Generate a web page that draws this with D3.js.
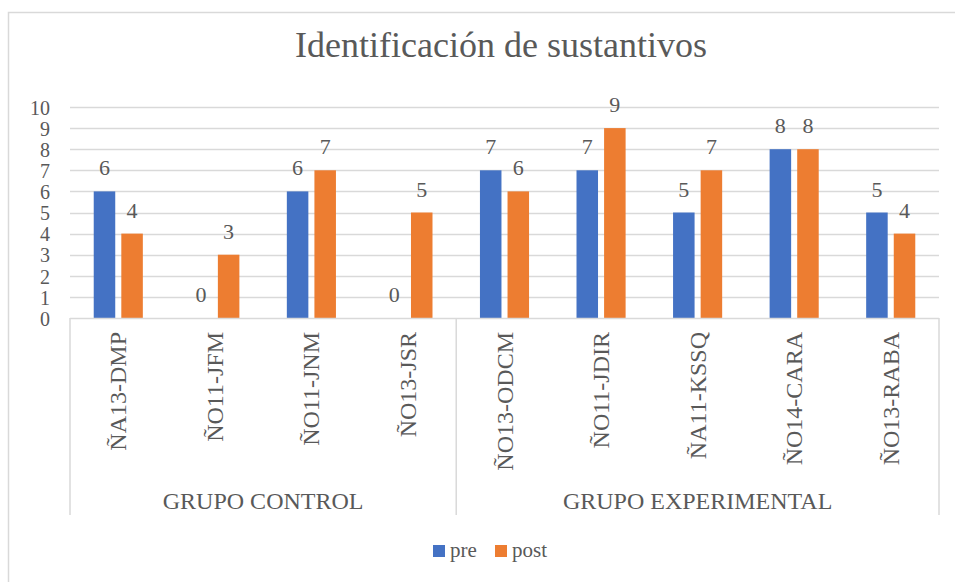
<!DOCTYPE html>
<html>
  <head>
    <meta charset="utf-8" />
    <title>Identificación de sustantivos</title>
    <script src="https://d3js.org/d3.v7.min.js"></script>
    <style>
      body { margin: 0; background: #fff; }
    </style>
  </head>
  <body>
    <svg id="chart"></svg>
    <script>
      // data
      var categories = ["ÑA13-DMP", "ÑO11-JFM", "ÑO11-JNM", "ÑO13-JSR", "ÑO13-ODCM", "ÑO11-JDIR", "ÑA11-KSSQ", "ÑO14-CARA", "ÑO13-RABA"];
      var groups = ["GRUPO CONTROL", "GRUPO EXPERIMENTAL"];
      var groupSizes = [4, 5];
      var series = ["pre", "post"];
      var preValues = [6, 0, 6, 0, 7, 7, 5, 8, 5];
      var postValues = [4, 3, 7, 5, 6, 9, 7, 8, 4];
      var yTicks = [0, 1, 2, 3, 4, 5, 6, 7, 8, 9, 10];
      var colors = ["#4472C4", "#ED7D31"];

      var FONT = "'Liberation Serif', Tinos, 'Times New Roman', 'DejaVu Serif', serif";
      var W = 955, H = 582;
      var svg = d3.select("#chart").attr("width", W).attr("height", H)
        .attr("font-family", FONT);

      function txt(sel) {
        return sel.attr("font-family", FONT).attr("fill", "#595959");
      }

      // chart border
      svg.append("rect")
        .attr("x", 8.5).attr("y", 12.5)
        .attr("width", 960).attr("height", 600)
        .attr("fill", "none").attr("stroke", "#d9d9d9").attr("stroke-width", 1.5);

      // title
      txt(svg.append("text"))
        .attr("x", 501).attr("y", 57)
        .attr("text-anchor", "middle")
        .attr("font-size", 36)
        .text("Identificación de sustantivos");

      // scales
      var x0 = d3.scaleBand().domain(categories).range([70, 939]).padding(0);
      var x1 = d3.scaleBand().domain(series).range([0, x0.bandwidth()])
        .paddingInner(0.22).paddingOuter(0.86);
      var y = d3.scaleLinear().domain([0, 10]).range([318, 107]);

      // gridlines
      svg.append("g").selectAll("line")
        .data(yTicks.slice(1))
        .enter().append("line")
        .attr("x1", 70).attr("x2", 939)
        .attr("y1", function (d) { return Math.round(y(d)) + 0.5; })
        .attr("y2", function (d) { return Math.round(y(d)) + 0.5; })
        .attr("stroke", "#d9d9d9").attr("stroke-width", 1.5);

      // y axis labels
      var yAxis = svg.append("g")
        .attr("transform", "translate(70,0)")
        .call(d3.axisLeft(y).tickValues(yTicks).tickSize(0).tickPadding(20))
        .attr("font-family", FONT);
      yAxis.select(".domain").remove();
      txt(yAxis.selectAll("text"))
        .attr("font-size", 20)
        .attr("dy", "0.36em");

      // bars
      var rows = categories.map(function (c, i) {
        return { cat: c, values: [preValues[i], postValues[i]] };
      });
      var cat = svg.append("g").selectAll("g")
        .data(rows)
        .enter().append("g")
        .attr("transform", function (d) { return "translate(" + x0(d.cat) + ",0)"; });

      cat.selectAll("rect")
        .data(function (d) { return d.values.map(function (v, j) { return { s: series[j], v: v, j: j }; }); })
        .enter().append("rect")
        .attr("x", function (d) { return x1(d.s); })
        .attr("y", function (d) { return y(d.v); })
        .attr("width", x1.bandwidth())
        .attr("height", function (d) { return y(0) - y(d.v); })
        .attr("fill", function (d) { return colors[d.j]; });

      txt(cat.selectAll("text.val")
        .data(function (d) { return d.values.map(function (v, j) { return { s: series[j], v: v }; }); })
        .enter().append("text"))
        .attr("class", "val")
        .attr("x", function (d) { return x1(d.s) + x1.bandwidth() / 2; })
        .attr("y", function (d) { return y(d.v) - 16; })
        .attr("text-anchor", "middle")
        .attr("font-size", 22)
        .text(function (d) { return d.v; });

      // category axis box
      var axisG = svg.append("g");
      axisG.append("line")
        .attr("x1", 70).attr("x2", 939).attr("y1", 318.5).attr("y2", 318.5)
        .attr("stroke", "#d9d9d9").attr("stroke-width", 1.5);

      var bounds = [0];
      groupSizes.forEach(function (n, i) { bounds.push(bounds[i] + n); });
      bounds.forEach(function (b) {
        var xx = b < categories.length ? x0(categories[b]) : x0.range()[1];
        axisG.append("line")
          .attr("x1", xx).attr("x2", xx).attr("y1", 318).attr("y2", 515)
          .attr("stroke", "#d9d9d9").attr("stroke-width", 1.5);
      });

      // category labels (rotated)
      txt(axisG.selectAll("text.cat")
        .data(categories)
        .enter().append("text"))
        .attr("class", "cat")
        .attr("transform", function (d) {
          return "translate(" + (x0(d) + x0.bandwidth() / 2 + 8) + ",332) rotate(-90)";
        })
        .attr("text-anchor", "end")
        .attr("font-size", 24)
        .text(function (d) { return d; });

      // group labels
      txt(axisG.selectAll("text.grp")
        .data(groups)
        .enter().append("text"))
        .attr("class", "grp")
        .attr("x", function (d, i) {
          var a = x0(categories[bounds[i]]);
          var b = bounds[i + 1] < categories.length ? x0(categories[bounds[i + 1]]) : x0.range()[1];
          return (a + b) / 2;
        })
        .attr("y", 509)
        .attr("text-anchor", "middle")
        .attr("font-size", 24)
        .text(function (d) { return d; });

      // legend
      var legendX = [433, 495];
      var legend = svg.append("g").selectAll("g")
        .data(series)
        .enter().append("g")
        .attr("transform", function (d, i) { return "translate(" + legendX[i] + ",545)"; });
      legend.append("rect")
        .attr("width", 12).attr("height", 12)
        .attr("fill", function (d, i) { return colors[i]; });
      txt(legend.append("text"))
        .attr("x", 17).attr("y", 12)
        .attr("font-size", 21)
        .text(function (d) { return d; });
    </script>
  </body>
</html>
